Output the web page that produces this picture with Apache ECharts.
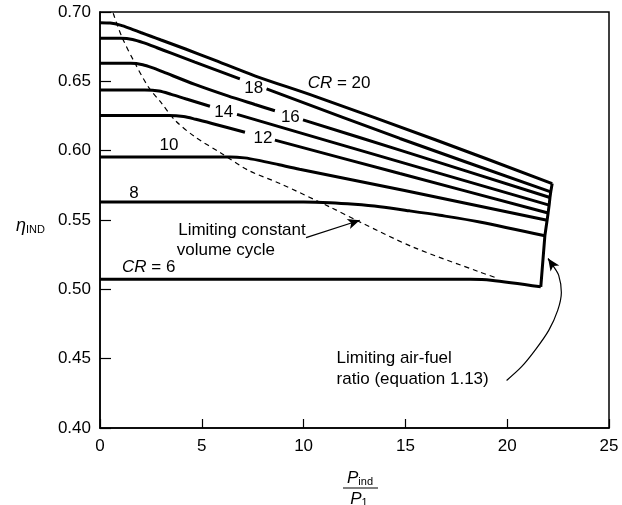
<!DOCTYPE html>
<html>
<head>
<meta charset="utf-8">
<script src="https://cdn.jsdelivr.net/npm/echarts@6/dist/echarts.min.js"></script>
<style>
  html, body { margin: 0; padding: 0; background: #fff; }
  #chart { width: 622px; height: 505px; }
</style>
</head>
<body>
<div id="chart"></div>
<script>
// x = P_ind / P_1, y = eta_IND ; '-' marks a break in the line (room for a label)
const cr20 = [[0, 0.6923], [0.5, 0.692], [1.0, 0.6905], [1.5, 0.688], [2.0, 0.6852], [2.5, 0.6825], [3.0, 0.6798], [4.2, 0.6733], [5.5, 0.666], [7.6, 0.654], [10.6, 0.639], [16.5, 0.6077], [22.21, 0.5763]]
const cr18 = [[0, 0.681], [1.0, 0.681], [1.6, 0.6802], [2.2, 0.6775], [2.8, 0.6742], [3.5, 0.6703], [4.66, 0.6638], [6.87, 0.6518], ['-', '-'], [8.18, 0.6445], [14.73, 0.6088], [22.14, 0.5703]]
const cr16 = [[0, 0.663], [1.5, 0.663], [2.1, 0.662], [2.6, 0.6597], [3.1, 0.6568], [4.66, 0.6478], [6.28, 0.6395], [7.61, 0.6333], [8.59, 0.6288], ['-', '-'], [9.97, 0.6222], [14.73, 0.6004], [22.10, 0.5662]]
const cr14 = [[0, 0.6437], [2.2, 0.6437], [2.9, 0.643], [3.5, 0.6406], [4.2, 0.6374], [5.4, 0.632], ['-', '-'], [6.73, 0.6262], [14.73, 0.5919], [22.06, 0.5607]]
const cr12 = [[0, 0.6254], [3.4, 0.6254], [4.1, 0.6246], [4.7, 0.6226], [5.5, 0.6196], [7.12, 0.6133], ['-', '-'], [8.59, 0.6076], [14.73, 0.5835], [22.01, 0.5551]]
const cr10 = [[0, 0.5955], [6.4, 0.5955], [7.1, 0.5948], [7.8, 0.593], [8.8, 0.5898], [9.8, 0.5866], [14.9, 0.5714], [21.96, 0.5498]]
const cr8 = [[0, 0.563], [10, 0.563], [11.3, 0.5625], [12.5, 0.5613], [13.75, 0.5595], [15.2, 0.5566], [16.69, 0.5534], [18.65, 0.5486], [21.85, 0.5386]]
const cr6 = [[0, 0.5072], [18.2, 0.5072], [19.2, 0.5066], [21.65, 0.5018]]

// limiting air-fuel ratio: joins the ends of the curves
const airFuel = [[21.65, 0.5018], [21.85, 0.5386], [21.96, 0.5498], [22.01, 0.5551], [22.06, 0.5607], [22.10, 0.5662], [22.14, 0.5703], [22.21, 0.5763]]

// limiting constant volume cycle (dashed)
const constVol = [[0.65, 0.6991], [1.07, 0.6822], [1.72, 0.663], [2.37, 0.6461], [3.03, 0.6341], [3.68, 0.622], [4.66, 0.61], [5.97, 0.598], [7.28, 0.5859], [8.84, 0.5763], [11.29, 0.5594], [12.76, 0.5486], [15.37, 0.5305], [18.65, 0.5125], [19.54, 0.5079]]

const xTicks = [0, 5, 10, 15, 20, 25]
const yTicks = [0.40, 0.45, 0.50, 0.55, 0.60, 0.65, 0.70]

// curve labels: text, anchor point, align
const curveLabels = [
  ['{i|CR} = 20', [10.2, 0.6487], 'left'],
  ['18', [7.55, 0.6448], 'center'],
  ['16', [9.35, 0.6242], 'center'],
  ['14', [6.08, 0.628], 'center'],
  ['12', [8.0, 0.609], 'center'],
  ['10', [3.39, 0.604], 'center'],
  ['8', [1.67, 0.5693], 'center'],
  ['{i|CR} = 6', [1.08, 0.516], 'left'],
  ['Limiting constant', [3.84, 0.5426], 'left'],
  ['volume cycle', [3.77, 0.5282], 'left'],
  ['Limiting air-fuel', [11.62, 0.450], 'left'],
  ['ratio (equation 1.13)', [11.62, 0.4348], 'left']
]

// annotation arrows
const arrowStraight = [[10.12, 0.5373], [12.76, 0.5498]]
const arrowCurve = [[19.97, 0.4343], [20.72, 0.4444], [21.40, 0.4567], [22.04, 0.4704], [22.48, 0.4848], [22.66, 0.4978], [22.53, 0.5101], [22.24, 0.5173], [22.01, 0.5222]]
const arrowCurveHead = [[22.24, 0.5173], [22.01, 0.5222]]

const FONT = "'Liberation Sans', Arial, sans-serif"

function curve(data) {
  return {
    type: 'line',
    data: data,
    symbol: 'none',
    smooth: 0.3,
    silent: true,
    lineStyle: { color: '#000', width: 3 }
  }
}

function arrowHead(pts) {
  return {
    silent: true,
    symbol: ['none', 'arrow'],
    symbolSize: [8, 12],
    label: { show: false },
    lineStyle: { color: '#000', width: 1.2, type: 'solid' },
    data: [[{ coord: pts[0] }, { coord: pts[1] }]]
  }
}

const chart = echarts.init(document.getElementById('chart'))

chart.setOption({
  animation: false,
  backgroundColor: '#fff',
  grid: {
    left: 100, right: 13, top: 12, bottom: 77,
    show: true, borderColor: '#000', borderWidth: 1.5
  },
  xAxis: {
    type: 'value',
    min: xTicks[0],
    max: xTicks[xTicks.length - 1],
    interval: 5,
    axisLine: { lineStyle: { color: '#000', width: 1.5 } },
    axisTick: { inside: true, length: 9, lineStyle: { color: '#000', width: 1.2 } },
    axisLabel: { color: '#000', fontSize: 17, fontFamily: FONT, margin: 10 },
    splitLine: { show: false }
  },
  yAxis: {
    type: 'value',
    min: yTicks[0],
    max: yTicks[yTicks.length - 1],
    interval: 0.05,
    axisLine: { show: true, lineStyle: { color: '#000', width: 1.5 } },
    axisTick: { show: true, inside: true, length: 11, lineStyle: { color: '#000', width: 1.2 } },
    axisLabel: {
      color: '#000', fontSize: 17, fontFamily: FONT, margin: 9,
      formatter: v => v.toFixed(2)
    },
    splitLine: { show: false }
  },
  series: [
    curve(cr20), curve(cr18), curve(cr16), curve(cr14),
    curve(cr12), curve(cr10), curve(cr8), curve(cr6),
    {
      type: 'line',
      data: airFuel,
      symbol: 'none',
      silent: true,
      lineStyle: { color: '#000', width: 3 }
    },
    {
      type: 'line',
      data: constVol,
      symbol: 'none',
      smooth: 0.3,
      silent: true,
      lineStyle: { color: '#000', width: 1.2, type: [5, 4] },
      markLine: arrowHead(arrowStraight)
    },
    {
      type: 'line',
      data: arrowCurve,
      symbol: 'none',
      smooth: 0.3,
      silent: true,
      lineStyle: { color: '#000', width: 1.2 },
      markLine: arrowHead(arrowCurveHead)
    }
  ]
})

const rich = {
  i: { fontStyle: 'italic', fontSize: 17, fontFamily: FONT, fill: '#000' }
}

const graphics = curveLabels.map(([text, at, align]) => {
  const p = chart.convertToPixel({ gridIndex: 0 }, at)
  return {
    type: 'text',
    x: p[0],
    y: p[1],
    silent: true,
    style: {
      text: text,
      fontSize: 17,
      fontFamily: FONT,
      fill: '#000',
      align: align,
      verticalAlign: 'middle',
      rich: rich
    }
  }
})

// y axis name
graphics.push({
  type: 'text', x: 16, y: 226, silent: true,
  style: {
    text: '{i|η}{s|IND}', fontFamily: FONT, fill: '#000', verticalAlign: 'middle',
    rich: {
      i: { fontStyle: 'italic', fontSize: 18, fontFamily: FONT, fill: '#000' },
      s: { fontSize: 11, fontFamily: FONT, fill: '#000', padding: [7, 0, 0, 0] }
    }
  }
})

// x axis name as a fraction
const fracRich = {
  i: { fontStyle: 'italic', fontSize: 17, fontFamily: FONT, fill: '#000' },
  s: { fontSize: 11, fontFamily: FONT, fill: '#000', padding: [7, 0, 0, 0] }
}
graphics.push(
  {
    type: 'text', x: 360, y: 478, silent: true,
    style: { text: '{i|P}{s|ind}', align: 'center', verticalAlign: 'middle', rich: fracRich }
  },
  {
    type: 'line', silent: true,
    shape: { x1: 343, y1: 488, x2: 378, y2: 488 },
    style: { stroke: '#000', lineWidth: 1.2 }
  },
  {
    type: 'text', x: 359, y: 499, silent: true,
    style: { text: '{i|P}{s|1}', align: 'center', verticalAlign: 'middle', rich: fracRich }
  }
)

chart.setOption({ graphic: graphics })
</script>
</body>
</html>
